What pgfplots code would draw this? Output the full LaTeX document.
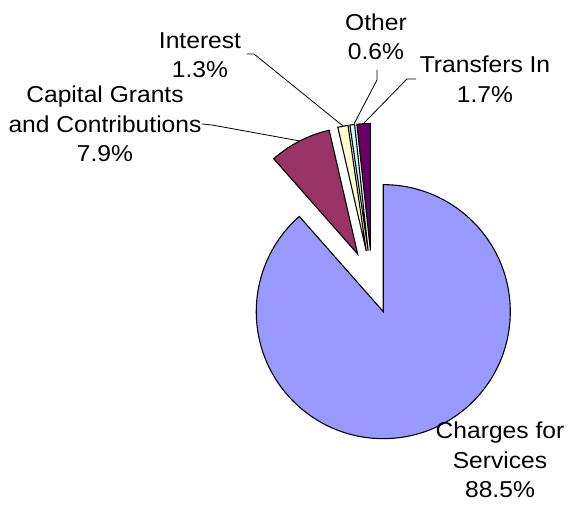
\documentclass[border=0pt]{standalone}
\usepackage{pgfplots}
\pgfplotsset{compat=1.18}
\usepackage{pgfplotstable}
\usepackage{fontspec}
\setmainfont{Liberation Sans}
\newfontfamily\lab[FakeStretch=1.07]{Liberation Sans}
\definecolor{cA}{HTML}{9999FF}
\definecolor{cB}{HTML}{993366}
\definecolor{cC}{HTML}{FFFFCC}
\definecolor{cD}{HTML}{CCFFFF}
\definecolor{cE}{HTML}{660066}
\pgfplotstableread{
slice value
Charges 88.5
Capital 7.9
Interest 1.3
Other 0.6
Transfers 1.7
}\piedata
\begin{document}
\begin{tikzpicture}
\pgfplotstablegetelem{0}{value}\of\piedata \let\vA\pgfplotsretval
\pgfplotstablegetelem{1}{value}\of\piedata \let\vB\pgfplotsretval
\pgfplotstablegetelem{2}{value}\of\piedata \let\vC\pgfplotsretval
\pgfplotstablegetelem{3}{value}\of\piedata \let\vD\pgfplotsretval
\pgfplotstablegetelem{4}{value}\of\piedata \let\vE\pgfplotsretval
\pgfmathsetmacro\sA{90}
\pgfmathsetmacro\eA{\sA-3.6*\vA}
\pgfmathsetmacro\sB{\eA}
\pgfmathsetmacro\eB{\sB-3.6*\vB}
\pgfmathsetmacro\sC{\eB}
\pgfmathsetmacro\eC{\sC-3.6*\vC}
\pgfmathsetmacro\sD{\eC}
\pgfmathsetmacro\eD{\sD-3.6*\vD}
\pgfmathsetmacro\sE{\eD}
\pgfmathsetmacro\eE{\sE-3.6*\vE}
\pgfmathsetmacro\bA{(\sA+\eA)/2}
\pgfmathsetmacro\bB{(\sB+\eB)/2}
\pgfmathsetmacro\bC{(\sC+\eC)/2}
\pgfmathsetmacro\bD{(\sD+\eD)/2}
\pgfmathsetmacro\bE{(\sE+\eE)/2}
\def\R{127pt}
\def\D{31.6pt}
\begin{axis}[x=1pt,y=1pt,xmin=0,xmax=570,ymin=0,ymax=529,hide axis,clip=false]
\path (axis cs:0,0) rectangle (axis cs:570,529);
\fill[cA,draw=black,line width=1.1pt,line join=miter] (axis cs:372.1,246.9) ++(\bA:\D) -- ++(\sA:\R) arc[start angle=\sA,end angle=\eA,radius=\R] -- cycle;
\fill[cB,draw=black,line width=1.1pt] (axis cs:372.1,246.9) ++(\bB:\D) -- ++(\sB:\R) arc[start angle=\sB,end angle=\eB,radius=\R] -- cycle;
\fill[cC,draw=black,line width=1.1pt] (axis cs:372.1,246.9) ++(\bC:\D) -- ++(\sC:\R) arc[start angle=\sC,end angle=\eC,radius=\R] -- cycle;
\fill[cD,draw=black,line width=1.1pt] (axis cs:372.1,246.9) ++(\bD:\D) -- ++(\sD:\R) arc[start angle=\sD,end angle=\eD,radius=\R] -- cycle;
\fill[cE,draw=black,line width=1.1pt] (axis cs:372.1,246.9) ++(\bE:\D) -- ++(\sE:\R) arc[start angle=\sE,end angle=\eE,radius=\R] -- cycle;
% leader lines
\draw[line width=0.8pt] (axis cs:202,405) -- (axis cs:212,404) -- (axis cs:300,388);
\draw[line width=0.8pt] (axis cs:247,475) -- (axis cs:254,475) -- (axis cs:343,403);
\draw[line width=0.8pt] (axis cs:377,459) -- (axis cs:377,449) -- (axis cs:354,405);
\draw[line width=0.8pt] (axis cs:416,450) -- (axis cs:407,450) -- (axis cs:364,406);
% labels
\begin{scope}[every node/.style={inner sep=0pt,align=center,font=\lab\fontsize{23}{29.5}\selectfont}]
\node at (axis cs:105,405) {Capital Grants\\and Contributions\\7.9\%};
\node at (axis cs:200,474) {Interest\\1.3\%};
\node at (axis cs:376,492) {Other\\0.6\%};
\node at (axis cs:485,449.5) {Transfers In\\1.7\%};
\node at (axis cs:500,69) {Charges for\\Services\\88.5\%};
\end{scope}
\end{axis}
\end{tikzpicture}
\end{document}
